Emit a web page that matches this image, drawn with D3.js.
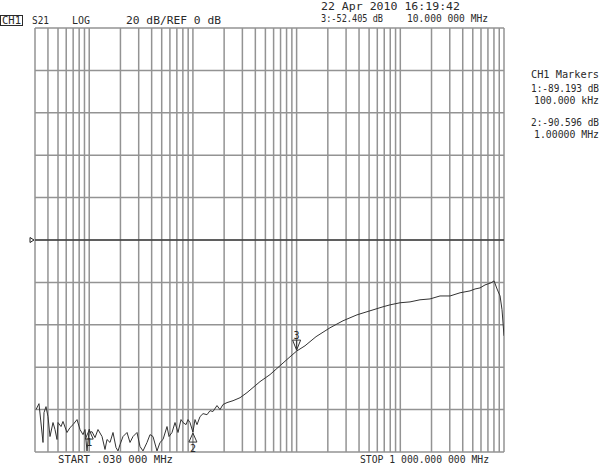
<!DOCTYPE html>
<html>
<head>
<meta charset="utf-8">
<script src="https://cdn.jsdelivr.net/npm/d3@7"></script>
<style>
  html, body { margin: 0; padding: 0; background: #fff; }
  svg { display: block; }
  text { font-family: "DejaVu Sans Mono", "Liberation Mono", monospace; font-size: 10px; fill: #2a2a2a; }
</style>
</head>
<body>
<div id="chart"></div>
<script>
// ---- Data ----
const startFreqMHz = 0.03;
const stopFreqMHz = 1000;
const refDb = 0;
const dbPerDiv = 20;

// trace: frequency (MHz) and S21 (dB)
const traceFreq = [
  0.03067, 0.03278, 0.03584, 0.03664, 0.0383, 0.04004, 0.04186, 0.04475, 0.04677, 0.0489,
  0.05, 0.05344, 0.05586, 0.06105, 0.06526, 0.06976, 0.07626, 0.08149, 0.0871, 0.09106,
  0.09519, 0.1, 0.1018, 0.1064, 0.1137, 0.1215, 0.1329, 0.142, 0.1484, 0.1587,
  0.1696, 0.1813, 0.1895, 0.1981, 0.2118, 0.2315, 0.2474, 0.2644, 0.289, 0.3089,
  0.3302, 0.3608, 0.3858, 0.4122, 0.4505, 0.4816, 0.5148, 0.5625, 0.5881, 0.6287,
  0.6719, 0.7182, 0.7676, 0.8025, 0.8581, 0.897, 0.9376, 1.0, 1.0476, 1.095,
  1.171, 1.252, 1.368, 1.462, 1.562, 1.707, 1.825, 1.951, 2.132, 2.437,
  2.845, 3.323, 3.798, 4.436, 5.538, 6.918, 8.637, 10.0, 12.05, 15.39,
  20.99, 28.02, 38.24, 51.04, 68.13, 79.56, 99.4, 124.1, 154.9, 193.5,
  241.6, 301.7, 376.7, 470.4, 525.6, 587.1, 656, 701, 750, 802,
  857, 916, 957, 1000
];
const traceDb = [
  -80.0, -77.2, -95.5, -81.4, -78.6, -83.3, -92.7, -86.1, -89.4, -94.1,
  -86.1, -88.0, -85.6, -90.8, -88.5, -87.1, -84.7, -89.4, -91.8, -89.4,
  -99.5, -89.193, -90.8, -90.4, -93.2, -89.4, -92.7, -98.8, -94.1, -95.5,
  -90.8, -97.9, -99.5, -96.5, -92.7, -90.8, -95.5, -92.7, -90.8, -97.4,
  -99.5, -95.5, -91.8, -92.7, -99.5, -95.5, -94.1, -88.0, -92.7, -90.8,
  -86.1, -90.8, -84.7, -86.1, -87.1, -84.7, -86.1, -90.596, -84.7, -87.1,
  -83.3, -81.9, -82.4, -80.5, -80.9, -78.1, -80.0, -77.6, -76.7, -75.8,
  -74.4, -72.0, -69.6, -66.8, -63.5, -59.3, -55.1, -52.405, -49.9, -45.6,
  -41.4, -38.1, -35.3, -33.4, -31.5, -30.6, -29.6, -29.2, -28.2, -27.8,
  -26.4, -26.4, -24.9, -24.0, -23.1, -22.6, -21.2, -20.7, -20.2, -19.3,
  -23.1, -26.4, -32.9, -45.2
];

// markers
const markerIds = ["1", "2", "3"];
const markerFreq = [0.1, 1.0, 10.0];
const markerDb = [-89.193, -90.596, -52.405];

// header / annotation texts
const headerLeft = ["S21", "LOG", "20 dB/REF 0 dB"];
const dateText = "22 Apr 2010  16:19:42";
const activeMarkerText = ["3:-52.405 dB", "10.000 000 MHz"];
const markerPanel = ["CH1 Markers", "1:-89.193 dB", "100.000 kHz", "2:-90.596 dB", "1.00000 MHz"];
const startText = "START .030 000 MHz";
const stopText = "STOP 1 000.000 000 MHz";

// ---- Layout ----
const W = 603, H = 464;
const plot = { left: 35, right: 504, top: 28, bottom: 452 };

const svg = d3.select("#chart").append("svg").attr("width", W).attr("height", H);

const x = d3.scaleLog().domain([startFreqMHz, stopFreqMHz]).range([plot.left, plot.right]);
const y = d3.scaleLinear()
  .domain([refDb - 5 * dbPerDiv, refDb + 5 * dbPerDiv])
  .range([plot.bottom, plot.top]);

// grid: vertical log lines (1..9 x each decade)
const gridFreqs = [];
for (let e = -2; e <= 3; e++) {
  for (let m = 1; m <= 9; m++) {
    const f = m * Math.pow(10, e);
    if (f >= startFreqMHz * 0.9999 && f <= stopFreqMHz * 1.0001) gridFreqs.push(f);
  }
}
const gridColor = "#939393";
const g = svg.append("g");
g.selectAll("line.v").data(gridFreqs).join("line")
  .attr("class", "v")
  .attr("x1", d => x(d)).attr("x2", d => x(d))
  .attr("y1", plot.top).attr("y2", plot.bottom)
  .attr("stroke", gridColor).attr("stroke-width", 1.5);

const gridDb = d3.range(-100, 101, dbPerDiv);
g.selectAll("line.h").data(gridDb).join("line")
  .attr("class", "h")
  .attr("x1", plot.left).attr("x2", plot.right)
  .attr("y1", d => y(d)).attr("y2", d => y(d))
  .attr("stroke", gridColor).attr("stroke-width", 1.5);

// reference line
svg.append("line")
  .attr("x1", plot.left).attr("x2", plot.right)
  .attr("y1", y(refDb)).attr("y2", y(refDb))
  .attr("stroke", "#111").attr("stroke-width", 1.2);
svg.append("path")
  .attr("d", `M${plot.left - 5},${y(refDb) - 2.5} L${plot.left - 1},${y(refDb)} L${plot.left - 5},${y(refDb) + 2.5} Z`)
  .attr("fill", "none").attr("stroke", "#222").attr("stroke-width", 1);

// clip
svg.append("clipPath").attr("id", "clip").append("rect")
  .attr("x", plot.left).attr("y", plot.top)
  .attr("width", plot.right - plot.left).attr("height", plot.bottom - plot.top);

// trace
const traceData = traceFreq.map((f, i) => ({ f, db: traceDb[i] }));
const line = d3.line().x(d => x(d.f)).y(d => y(d.db));
svg.append("path")
  .datum(traceData)
  .attr("clip-path", "url(#clip)")
  .attr("d", line)
  .attr("fill", "none").attr("stroke", "#333").attr("stroke-width", 1);

// markers
markerIds.forEach((id, i) => {
  const mx = x(markerFreq[i]), my = y(markerDb[i]);
  if (i < 2) {
    svg.append("path")
      .attr("d", `M${mx},${my + 1} L${mx - 4},${my + 10} L${mx + 4},${my + 10} Z`)
      .attr("fill", "none").attr("stroke", "#333").attr("stroke-width", 1);
    svg.append("text").attr("x", mx).attr("y", my + (i === 0 ? 17 : 20))
      .attr("text-anchor", "middle").text(id);
  } else {
    svg.append("path")
      .attr("d", `M${mx},${my - 1} L${mx - 4},${my - 11} L${mx + 4},${my - 11} Z M${mx},${my - 1} L${mx},${my - 11}`)
      .attr("fill", "none").attr("stroke", "#333").attr("stroke-width", 1);
    svg.append("text").attr("x", mx).attr("y", my - 12.5)
      .attr("text-anchor", "middle").text(id);
  }
});

// texts
function label(str, tx, ty, len) {
  const t = svg.append("text").attr("x", tx).attr("y", ty).text(str);
  if (len) t.attr("textLength", len).attr("lengthAdjust", "spacingAndGlyphs");
  return t;
}
svg.append("rect").attr("x", 0.5).attr("y", 15.5).attr("width", 22).attr("height", 10)
  .attr("fill", "none").attr("stroke", "#2a2a2a").attr("stroke-width", 1);
label("CH1", 2, 24, 19);
label(headerLeft[0], 32, 24, 17);
label(headerLeft[1], 72, 24, 18);
label(headerLeft[2], 126, 24, 95);

label(dateText, 321, 10, 139);
label(activeMarkerText[0], 321, 22, 62);
label(activeMarkerText[1], 407, 22, 81);

label(markerPanel[0], 531, 78, 68);
label(markerPanel[1], 531, 92, 68);
label(markerPanel[2], 534, 104, 65);
label(markerPanel[3], 531, 126, 68);
label(markerPanel[4], 534, 138, 65);

label(startText, 58, 463, 115);
label(stopText, 360, 463, 129);
</script>
</body>
</html>
